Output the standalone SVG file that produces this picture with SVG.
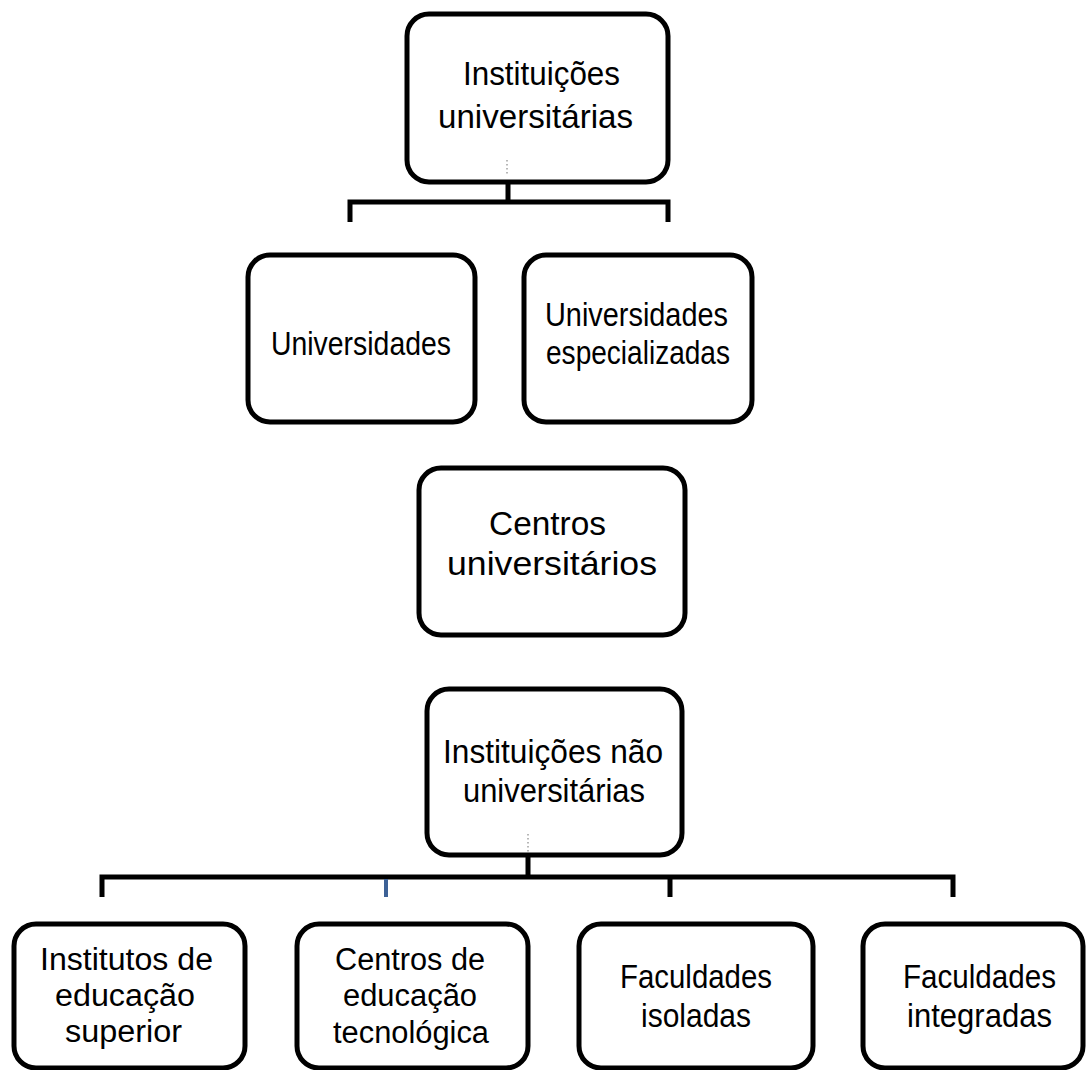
<svg xmlns="http://www.w3.org/2000/svg" width="1086" height="1070" viewBox="0 0 1086 1070">
<style>
.box{fill:#fff;stroke:#000;stroke-width:5}
.lbl{font-family:"Liberation Sans",Arial,sans-serif;font-size:33px;fill:#000;text-anchor:middle}
.sm{font-size:31px}
.con{fill:none;stroke:#000;stroke-width:5}
.dot{fill:none;stroke:#888;stroke-width:1.2;stroke-dasharray:1.5 2.5}
</style>
<rect width="1086" height="1070" fill="#fff"/>
<g id="connectors">
<path class="con" d="M508,182 V202 M350,222 V202 H668 V222"/>
<path class="con" d="M528,855 V877 M102,897 V877 H953 V897 M670,877 V897"/>
<path d="M386,879 V897" fill="none" stroke="#3d6196" stroke-width="4"/>
</g>
<g id="n-inst-univ">
<rect class="box" x="407" y="14" width="261" height="168" rx="22"/>
<text class="lbl" x="541.5" y="85" textLength="157" lengthAdjust="spacingAndGlyphs">Instituições</text>
<text class="lbl" x="535.5" y="128" textLength="195" lengthAdjust="spacingAndGlyphs">universitárias</text>
<path class="dot" d="M507,160 V176"/>
</g>
<g id="n-universidades">
<rect class="box" x="248" y="255" width="227" height="167" rx="22"/>
<text class="lbl" x="361" y="355" textLength="180" lengthAdjust="spacingAndGlyphs">Universidades</text>
</g>
<g id="n-univ-esp">
<rect class="box" x="524" y="255" width="228" height="167" rx="22"/>
<text class="lbl" x="636.5" y="326" textLength="183" lengthAdjust="spacingAndGlyphs">Universidades</text>
<text class="lbl" x="638" y="364" textLength="184" lengthAdjust="spacingAndGlyphs">especializadas</text>
</g>
<g id="n-centros-univ">
<rect class="box" x="419" y="468" width="266" height="167" rx="22"/>
<text class="lbl" x="547.5" y="535" textLength="117" lengthAdjust="spacingAndGlyphs">Centros</text>
<text class="lbl" x="552" y="575" textLength="210" lengthAdjust="spacingAndGlyphs">universitários</text>
</g>
<g id="n-inst-nao-univ">
<rect class="box" x="427" y="689" width="255" height="166" rx="22"/>
<text class="lbl" x="553" y="763" textLength="220" lengthAdjust="spacingAndGlyphs">Instituições não</text>
<text class="lbl" x="554" y="802" textLength="182" lengthAdjust="spacingAndGlyphs">universitárias</text>
<path class="dot" d="M528,834 V853"/>
</g>
<g id="n-institutos">
<rect class="box" x="14" y="924" width="231" height="144" rx="22"/>
<text class="lbl sm" x="126.5" y="970" textLength="173" lengthAdjust="spacingAndGlyphs">Institutos de</text>
<text class="lbl sm" x="125" y="1006" textLength="140" lengthAdjust="spacingAndGlyphs">educação</text>
<text class="lbl sm" x="123.5" y="1042" textLength="117" lengthAdjust="spacingAndGlyphs">superior</text>
</g>
<g id="n-centros-edu">
<rect class="box" x="297" y="924" width="231" height="144" rx="22"/>
<text class="lbl sm" x="410" y="970" textLength="150" lengthAdjust="spacingAndGlyphs">Centros de</text>
<text class="lbl sm" x="410" y="1006" textLength="134" lengthAdjust="spacingAndGlyphs">educação</text>
<text class="lbl sm" x="411" y="1043" textLength="156" lengthAdjust="spacingAndGlyphs">tecnológica</text>
</g>
<g id="n-fac-isoladas">
<rect class="box" x="579" y="924" width="234" height="144" rx="22"/>
<text class="lbl" x="696" y="988" textLength="152" lengthAdjust="spacingAndGlyphs">Faculdades</text>
<text class="lbl" x="696" y="1027" textLength="110" lengthAdjust="spacingAndGlyphs">isoladas</text>
</g>
<g id="n-fac-integradas">
<rect class="box" x="863" y="924" width="220" height="144" rx="22"/>
<text class="lbl" x="979.5" y="988" textLength="153" lengthAdjust="spacingAndGlyphs">Faculdades</text>
<text class="lbl" x="979.5" y="1027" textLength="145" lengthAdjust="spacingAndGlyphs">integradas</text>
</g>
</svg>
